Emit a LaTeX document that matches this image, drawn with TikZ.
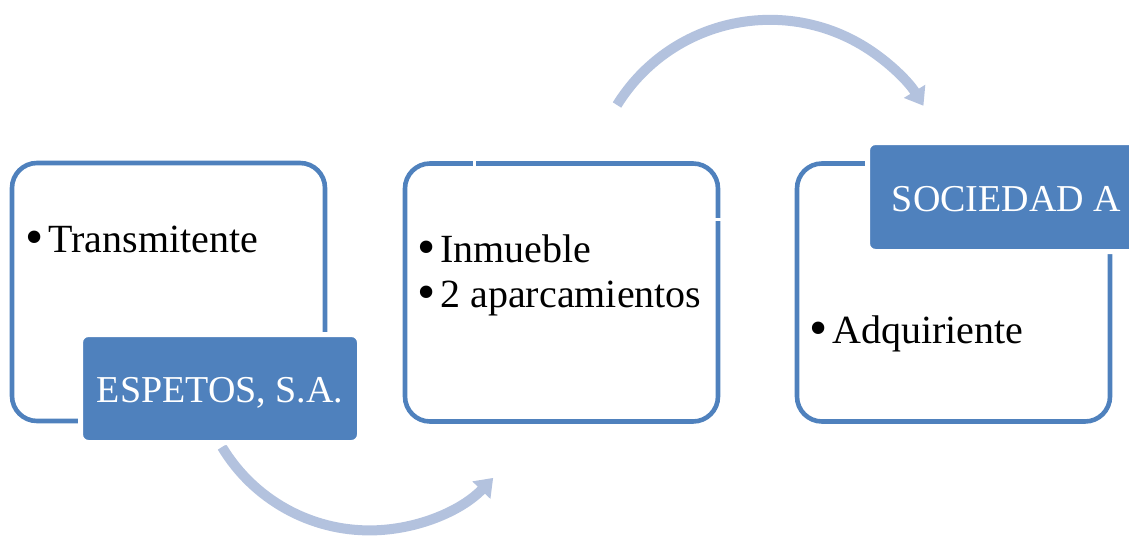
\documentclass[tikz,border=0pt]{standalone}
\usepackage{fontspec}
\setmainfont{Liberation Serif}
\usetikzlibrary{arrows.meta}
\definecolor{boxblue}{RGB}{79,129,189}
\definecolor{arrowblue}{RGB}{179,194,222}
\newcommand{\bul}{\smash{\raisebox{-2pt}{\fontsize{52}{45}\selectfont\textbullet}}\hspace{5pt}}
\begin{document}
\begin{tikzpicture}[x=1pt,y=-1pt,
  frame/.style={draw=boxblue, line width=4.6pt, rounded corners=25pt, minimum width=313pt, minimum height=258pt, inner sep=0pt},
  tag/.style={fill=boxblue, draw=white, line width=5pt, rounded corners=8pt, inner sep=0pt},
  tagtext/.style={text=white, font=\fontsize{38}{44}\selectfont, anchor=base, inner sep=0pt},
  item/.style={font=\fontsize{40}{45}\selectfont, anchor=base west, inner sep=0pt},
  flow/.style={draw=arrowblue, line width=10pt, -{Triangle[width=24pt,length=17pt]}},
  notch/.style={draw=white, line width=3pt}]
\useasboundingbox (0,0) rectangle (1129,538);
% arrows
\coordinate (a1) at (222,447);
\coordinate (a2) at (617,105);
\draw[flow] (a1) arc[start angle=149, end angle=44, radius=172];
\draw[flow] (a2) arc[start angle=211.8, end angle=328.5, radius=180];
% boxes
\node[frame] (box1) at (168.5,292) {};
\node[frame] (box2) at (561.5,292.5) {};
\node[frame] (box3) at (953.5,292.5) {};
\draw[notch] (474.5,158) -- (474.5,169);
\draw[notch] (712,219) -- (724,219);
% tags
\node[tag, minimum width=279pt, minimum height=108pt] (tag1) at (220,388.5) {};
\node[tag, minimum width=282.5pt, minimum height=109pt] (tag3) at (1008.75,197) {};
\node[tagtext] (t1) at (220,402) {ESPETOS, S.A.};
\node[tagtext] (t3) at (1006.5,211) {SOCIEDAD A};
% items
\node[item] (i1) at (25,252) {\bul Transmitente};
\node[item] (i2) at (417,262) {\bul Inmueble};
\node[item] (i3) at (417,307) {\bul 2 aparcamientos};
\node[item] (i4) at (809,343) {\bul Adquiriente};
\end{tikzpicture}
\end{document}
